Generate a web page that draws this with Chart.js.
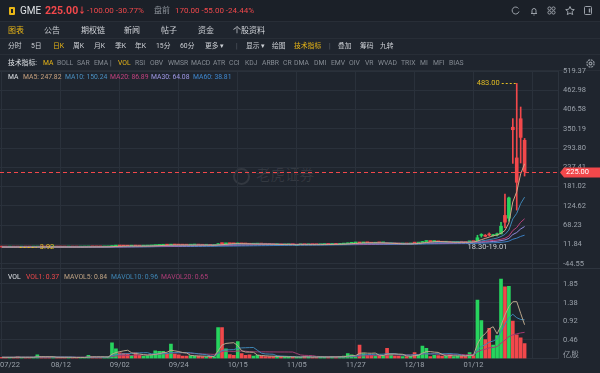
<!DOCTYPE html>
<html>
<head>
<meta charset="utf-8">
<script src="https://cdn.jsdelivr.net/npm/chart.js@4.4.1/dist/chart.umd.min.js"></script>
<style>
  body { margin: 0; width: 600px; height: 373px; overflow: hidden; position: relative; background: #1f252e;
         font-family: Roboto, "Noto Sans CJK SC", sans-serif; color: #8d939b; }
  .t { position: absolute; white-space: nowrap; line-height: 1; transform: translateY(-50%); }
  .hl { position: absolute; left: 0; width: 600px; height: 1px; background: #282e37; }
  .r1 { font-size: 8px; }
  .r2 { font-size: 8px; color: #d0d3d8; }
  .r3 { font-size: 6.8px; color: #cdd0d5; }
  .r4 { font-size: 6.8px; color: #858b93; }
  .lg { font-size: 6.8px; }
  .red { color: #f2484b; }
  .yel { color: #e9b616; }
  .wht { color: #dfe2e6; }
  #top { position: absolute; left: 0; top: 0; width: 600px; height: 21px; background: #1b2028; }
  #wm { position: absolute; left: 233px; top: 163px; font-size: 14.5px; color: rgba(255,255,255,0.09); font-family: "Noto Sans CJK SC"; }
  #wm span { display: inline-block; width: 17px; height: 17px; border: 2px solid rgba(255,255,255,0.09); border-radius: 50%; vertical-align: middle; margin-right: 6px; box-sizing: border-box; }
  canvas { position: absolute; left: 0; top: 0; }
</style>
</head>
<body>
<div id="top"></div>
<div class="hl" style="top:21px"></div>
<div class="hl" style="top:38px"></div>
<div class="hl" style="top:54px"></div>
<div class="hl" style="top:70px"></div>
<div id="wm"><span></span>老虎证券</div>
<canvas id="k" width="600" height="373"></canvas>

<div style="position:absolute;left:9px;top:7px;width:6px;height:8px;background:#e9b616;border-radius:1px"></div>
<div style="position:absolute;left:11px;top:9px;width:2px;height:4px;background:#1b2028"></div>
<div class="t wht" style="left:20px;top:11px;font-size:10px">GME</div>
<div class="t red" style="left:45px;top:11px;font-size:10.5px;font-weight:bold">225.00</div>
<div class="t red" style="left:78px;top:11px;font-size:8px;font-weight:bold">↓</div>
<div class="t r1 red" style="left:87px;top:11px">-100.00 -30.77%</div>
<div class="t r1" style="left:154px;top:11px">盘前</div>
<div class="t r1 red" style="left:175px;top:11px">170.00 -55.00 -24.44%</div>
<svg style="position:absolute;left:0;top:0" width="600" height="21" fill="none" stroke="#9aa0a8" stroke-width="1">
  <path d="M518.5 8.5 A3.5 3.5 0 1 0 519 11.5"/>
  <path d="M531 13.5 h6 M532 13.5 v-3 a2 2 0 0 1 4 0 v3 M533.5 15 h1"/>
  <circle cx="549.5" cy="8.5" r="1.6"/><circle cx="553.5" cy="8.5" r="1.6"/><circle cx="549.5" cy="12.5" r="1.6"/><circle cx="553.5" cy="12.5" r="1.6"/>
  <path d="M570 6.5 l1.3 2.8 3 .3 -2.3 2 .7 3 -2.7-1.6 -2.7 1.6 .7-3 -2.3-2 3-.3z"/>
  <rect x="584.5" y="6.5" width="7" height="8" rx="1"/><path d="M589.5 8.5 v4" stroke-width="1.4"/>
</svg>

<div class="t r2 yel" style="left:8px;top:31px">图表</div>
<div class="t r2" style="left:44px;top:31px">公告</div>
<div class="t r2" style="left:81px;top:31px">期权链</div>
<div class="t r2" style="left:124px;top:31px">新闻</div>
<div class="t r2" style="left:161px;top:31px">帖子</div>
<div class="t r2" style="left:198px;top:31px">资金</div>
<div class="t r2" style="left:233px;top:31px">个股资料</div>

<div class="t r3" style="left:8px;top:46px">分时</div>
<div class="t r3" style="left:31px;top:46px">5日</div>
<div class="t r3 yel" style="left:53px;top:46px">日K</div>
<div class="t r3" style="left:73px;top:46px">周K</div>
<div class="t r3" style="left:94px;top:46px">月K</div>
<div class="t r3" style="left:115px;top:46px">季K</div>
<div class="t r3" style="left:135px;top:46px">年K</div>
<div class="t r3" style="left:156px;top:46px">15分</div>
<div class="t r3" style="left:180px;top:46px">60分</div>
<div class="t r3" style="left:205px;top:46px">更多 ▾</div>
<div class="t r3" style="left:236px;top:46px;color:#5c626b">|</div>
<div class="t r3" style="left:246px;top:46px">显示 ▾</div>
<div class="t r3" style="left:272px;top:46px">绘图</div>
<div class="t r3 yel" style="left:294px;top:46px">技术指标</div>
<div class="t r3" style="left:329px;top:46px;color:#5c626b">|</div>
<div class="t r3" style="left:338px;top:46px">叠加</div>
<div class="t r3" style="left:360px;top:46px">筹码</div>
<div class="t r3" style="left:380px;top:46px">九转</div>

<div class="t r4 wht" style="left:8px;top:63px">技术指标:</div>
<div class="t r4 yel" style="left:43px;top:63px">MA</div>
<div class="t r4" style="left:57px;top:63px">BOLL</div>
<div class="t r4" style="left:77px;top:63px">SAR</div>
<div class="t r4" style="left:94px;top:63px">EMA</div>
<div class="t r4" style="left:110px;top:63px">|</div>
<div class="t r4 yel" style="left:118px;top:63px">VOL</div>
<div class="t r4" style="left:135px;top:63px">RSI</div>
<div class="t r4" style="left:150px;top:63px">OBV</div>
<div class="t r4" style="left:168px;top:63px">WMSR</div>
<div class="t r4" style="left:191px;top:63px">MACD</div>
<div class="t r4" style="left:213px;top:63px">ATR</div>
<div class="t r4" style="left:229px;top:63px">CCI</div>
<div class="t r4" style="left:245px;top:63px">KDJ</div>
<div class="t r4" style="left:262px;top:63px">ARBR</div>
<div class="t r4" style="left:283px;top:63px">CR</div>
<div class="t r4" style="left:294px;top:63px">DMA</div>
<div class="t r4" style="left:314px;top:63px">DMI</div>
<div class="t r4" style="left:331px;top:63px">EMV</div>
<div class="t r4" style="left:349px;top:63px">OIV</div>
<div class="t r4" style="left:365px;top:63px">VR</div>
<div class="t r4" style="left:378px;top:63px">WVAD</div>
<div class="t r4" style="left:401px;top:63px">TRIX</div>
<div class="t r4" style="left:420px;top:63px">MI</div>
<div class="t r4" style="left:433px;top:63px">MFI</div>
<div class="t r4" style="left:449px;top:63px">BIAS</div>
<svg style="position:absolute;left:585px;top:58px" width="11" height="11" fill="none" stroke="#8d939b" stroke-width="1.2">
  <circle cx="5.5" cy="5.5" r="3.6" stroke-dasharray="2 0.8"/><circle cx="5.5" cy="5.5" r="1.4"/>
</svg>

<div class="t lg wht" style="left:8px;top:77px">MA</div>
<div class="t lg" style="left:23px;top:77px;color:#c9a27e">MA5: 247.82</div>
<div class="t lg" style="left:65px;top:77px;color:#4a8fc0">MA10: 150.24</div>
<div class="t lg" style="left:110px;top:77px;color:#c2417e">MA20: 86.89</div>
<div class="t lg" style="left:151px;top:77px;color:#9f98e6">MA30: 64.08</div>
<div class="t lg" style="left:193px;top:77px;color:#3f88d0">MA60: 38.81</div>

<div class="t lg wht" style="left:8px;top:277px">VOL</div>
<div class="t lg red" style="left:26px;top:277px">VOL1: 0.37</div>
<div class="t lg" style="left:64px;top:277px;color:#c0a484">MAVOL5: 0.84</div>
<div class="t lg" style="left:111px;top:277px;color:#3f86b5">MAVOL10: 0.96</div>
<div class="t lg" style="left:161px;top:277px;color:#b03d78">MAVOL20: 0.65</div>

<script>
// trading days, 2020-07-22 .. 2021-02-01
const dates = [
  '07/22','07/23','07/24','07/27','07/28','07/29','07/30','07/31',
  '08/03','08/04','08/05','08/06','08/07','08/10','08/11','08/12','08/13','08/14','08/17','08/18','08/19','08/20','08/21','08/24','08/25','08/26','08/27','08/28','08/31',
  '09/01','09/02','09/03','09/04','09/08','09/09','09/10','09/11','09/14','09/15','09/16','09/17','09/18','09/21','09/22','09/23','09/24','09/25','09/28','09/29','09/30',
  '10/01','10/02','10/05','10/06','10/07','10/08','10/09','10/12','10/13','10/14','10/15','10/16','10/19','10/20','10/21','10/22','10/23','10/26','10/27','10/28','10/29','10/30',
  '11/02','11/03','11/04','11/05','11/06','11/09','11/10','11/11','11/12','11/13','11/16','11/17','11/18','11/19','11/20','11/23','11/24','11/25','11/27','11/30',
  '12/01','12/02','12/03','12/04','12/07','12/08','12/09','12/10','12/11','12/14','12/15','12/16','12/17','12/18','12/21','12/22','12/23','12/24','12/28','12/29','12/30','12/31',
  '01/04','01/05','01/06','01/07','01/08','01/11','01/12','01/13','01/14','01/15','01/19','01/20','01/21','01/22','01/25','01/26','01/27','01/28','01/29',
  '02/01'
];
const open = [
  4.15,4.08,4.00,4.04,3.97,3.96,4.03,4.02,
  4.02,4.10,4.40,4.30,4.23,4.19,4.30,4.25,4.22,4.16,4.20,4.15,4.12,4.26,4.36,4.78,4.68,4.60,4.56,4.70,5.63,
  6.90,7.80,7.20,6.95,6.80,7.20,7.00,6.85,7.00,7.45,8.30,9.00,9.40,10.10,9.80,10.50,10.00,9.80,9.75,9.60,10.05,
  10.10,9.70,9.40,9.50,9.15,10.50,15.30,13.50,14.00,13.80,13.30,14.80,13.40,13.10,12.40,12.70,13.00,12.70,12.20,11.90,11.40,11.40,
  10.90,11.30,11.30,11.10,11.10,11.60,11.00,11.30,11.10,11.00,11.50,11.90,11.80,12.10,12.00,12.80,13.60,15.10,16.10,17.10,
  16.10,17.20,16.60,15.40,16.90,16.30,15.30,13.60,13.80,13.60,13.10,13.40,13.30,16.00,15.70,16.70,20.30,20.90,20.20,21.00,19.40,18.20,
  19.00,17.35,17.34,18.47,18.18,19.41,19.96,20.42,38.09,38.49,41.55,37.37,39.23,42.59,96.73,88.56,354.83,265.00,379.71,
  316.56
];
const high = [
  4.20,4.12,4.10,4.08,4.03,4.08,4.10,4.06,
  4.12,4.45,4.48,4.35,4.30,4.35,4.40,4.32,4.28,4.25,4.26,4.22,4.30,4.40,4.80,4.90,4.75,4.72,4.70,5.50,6.85,
  7.88,8.00,7.35,7.10,7.05,7.30,7.10,7.00,7.50,8.30,9.20,9.50,10.10,10.40,10.80,10.70,10.20,9.95,9.95,10.10,10.35,
  10.25,9.85,9.60,9.60,9.45,14.20,15.80,14.20,14.30,14.00,15.50,15.00,13.80,13.30,12.90,13.30,13.40,12.80,12.50,12.00,11.80,11.50,
  11.50,11.60,11.50,11.30,11.40,11.80,11.40,11.50,11.30,11.50,12.00,12.10,12.20,12.30,12.80,13.60,15.80,16.50,16.50,17.30,
  17.40,17.40,16.80,16.90,17.20,17.00,15.50,14.20,14.00,13.80,13.60,13.50,14.00,16.40,16.60,20.50,21.90,21.30,21.30,21.20,19.80,19.20,
  19.10,18.08,18.98,19.45,18.30,20.65,20.40,38.65,43.06,40.75,45.52,41.19,44.75,76.76,159.18,150.00,380.00,483.00,413.98,
  322.00
];
const low = [
  4.05,3.98,3.95,3.94,3.92,3.94,3.98,3.95,
  4.00,4.08,4.25,4.20,4.15,4.15,4.22,4.18,4.12,4.10,4.12,4.08,4.10,4.20,4.34,4.62,4.55,4.52,4.50,4.65,5.55,
  6.80,7.10,6.80,6.55,6.60,6.90,6.75,6.70,6.95,7.40,8.20,8.80,9.20,9.50,9.70,9.90,9.60,9.55,9.50,9.50,9.95,
  9.70,9.30,9.30,9.05,9.10,10.40,13.20,13.20,13.50,13.30,13.20,13.20,12.90,12.30,12.20,12.50,12.60,12.10,11.80,11.30,11.10,10.80,
  10.80,11.10,10.90,10.90,11.00,10.90,10.90,11.00,10.90,10.95,11.40,11.60,11.70,11.80,11.90,12.70,13.50,15.00,15.80,15.70,
  16.00,16.30,15.20,15.30,16.00,16.10,13.50,13.20,13.40,13.00,13.00,13.00,13.20,14.90,15.30,16.60,19.80,19.90,20.00,19.10,18.00,18.00,
  17.15,17.23,17.33,18.02,17.08,19.01,19.32,19.01,33.05,34.01,36.64,36.06,37.00,42.32,61.13,80.20,249.00,112.25,250.00,
  212.00
];
const close = [
  4.08,4.01,4.04,3.97,3.95,4.05,4.01,4.01,
  4.09,4.40,4.30,4.23,4.18,4.30,4.25,4.22,4.16,4.20,4.14,4.12,4.26,4.35,4.75,4.68,4.60,4.56,4.65,5.39,6.68,
  7.65,7.19,6.90,6.75,6.92,6.98,6.80,6.93,7.40,8.20,9.05,9.40,10.00,9.70,10.60,10.05,9.80,9.69,9.60,10.05,10.20,
  9.77,9.39,9.46,9.13,9.36,13.49,13.88,14.05,13.86,13.60,14.75,13.31,13.06,12.35,12.62,13.00,12.75,12.20,12.00,11.40,11.50,10.85,
  11.20,11.37,11.05,11.10,11.30,11.00,11.30,11.10,11.00,11.40,11.90,11.80,12.10,12.00,12.70,13.50,15.00,16.08,16.35,16.00,
  17.25,16.56,15.30,16.90,16.35,16.40,13.66,13.85,13.55,13.12,13.40,13.20,13.85,15.63,16.40,20.15,20.99,20.15,20.99,19.38,18.17,18.84,
  17.25,17.37,18.36,18.08,17.69,19.94,19.95,31.40,39.91,35.50,39.36,39.12,43.03,65.01,76.79,147.98,347.51,193.60,325.00,
  225.00
];
// volume in 亿股
const volume = [
  0.03,0.03,0.03,0.03,0.04,0.03,0.03,0.03,
  0.03,0.09,0.04,0.03,0.03,0.03,0.03,0.03,0.03,0.03,0.02,0.02,0.03,0.03,0.08,0.04,0.03,0.03,0.03,0.05,0.39,
  0.24,0.14,0.13,0.12,0.08,0.14,0.08,0.06,0.07,0.10,0.19,0.18,0.18,0.12,0.36,0.11,0.09,0.06,0.06,0.07,0.06,
  0.06,0.05,0.04,0.05,0.04,0.77,0.77,0.24,0.10,0.08,0.42,0.12,0.08,0.09,0.06,0.08,0.06,0.05,0.05,0.05,0.04,0.04,
  0.04,0.04,0.04,0.03,0.03,0.06,0.04,0.03,0.03,0.04,0.05,0.04,0.04,0.03,0.05,0.06,0.12,0.09,0.04,0.33,
  0.12,0.08,0.08,0.07,0.06,0.08,0.25,0.10,0.06,0.06,0.05,0.05,0.05,0.15,0.10,0.31,0.25,0.05,0.08,0.07,0.06,0.06,
  0.10,0.05,0.06,0.06,0.06,0.15,0.07,1.45,0.94,0.47,0.75,0.33,0.57,1.97,1.78,1.79,0.93,0.59,0.51,
  0.37
];
const xTickLabels = ['07/22','08/12','09/02','09/24','10/15','11/05','11/27','12/18','01/12'];
const priceTicks = [519.37, 462.98, 406.58, 350.19, 293.80, 237.41, 181.02, 124.62, 68.23, 11.84, -44.55];
const volTicks = [0.46, 0.92, 1.38, 1.85];
const maPeriods = [5, 10, 20, 30, 60];
const maColors = ['#d2a487', '#3f86b5', '#b8417b', '#928ce0', '#3b7fc2'];
const volMaPeriods = [5, 10, 20];
const volMaColors = ['#b9a68b', '#3f86b5', '#a33b72'];

const GREEN = '#27d45e', RED = '#f2484b', YELLOW = '#e3bd22', GRID = '#2a313b', AXIS = '#9aa1aa';
Chart.defaults.font.family = 'Roboto, "Noto Sans CJK SC", sans-serif';

const barColor = close.map((c, i) => c >= open[i] ? GREEN : RED);
const labels = dates.concat(Array(8).fill(''));

function movingAvg(arr, n) {
  return arr.map((_, i) => {
    const s = Math.max(0, i - n + 1);
    let t = 0;
    for (let j = s; j <= i; j++) t += arr[j];
    return t / (i - s + 1);
  });
}

const maSets = maPeriods.map((n, k) => ({
  type: 'line', data: movingAvg(close, n), borderColor: maColors[k], borderWidth: 1,
  pointRadius: 0, yAxisID: 'y', order: 0
}));
const volMaSets = volMaPeriods.map((n, k) => ({
  type: 'line', data: movingAvg(volume, n), borderColor: volMaColors[k], borderWidth: 1,
  pointRadius: 0, yAxisID: 'v', order: 0
}));

const marks = {
  id: 'marks',
  afterDraw(chart) {
    const { ctx, scales: { x, y, v } } = chart;
    ctx.save();
    ctx.font = '7.5px Roboto';
    ctx.textBaseline = 'middle';

    // separator between the two panels
    ctx.fillStyle = '#2e353f';
    ctx.fillRect(0, Math.round(v.top), chart.width, 1);

    // last price line and tag
    const last = close[close.length - 1];
    const py = Math.round(y.getPixelForValue(last)) + 0.5;
    ctx.strokeStyle = RED;
    ctx.lineWidth = 1;
    ctx.setLineDash([4, 3]);
    ctx.beginPath(); ctx.moveTo(0, py); ctx.lineTo(x.right, py); ctx.stroke();
    ctx.setLineDash([]);
    ctx.fillStyle = RED;
    ctx.beginPath();
    ctx.moveTo(x.right + 2, py); ctx.lineTo(x.right + 6, py - 5); ctx.lineTo(600, py - 5);
    ctx.lineTo(600, py + 5); ctx.lineTo(x.right + 6, py + 5); ctx.closePath(); ctx.fill();
    ctx.fillStyle = '#ffffff';
    ctx.fillText(last.toFixed(2), x.right + 8, py);

    // highest price
    const hi = Math.max(...high), hiI = high.indexOf(hi);
    const hx = x.getPixelForValue(hiI), hy = Math.round(y.getPixelForValue(hi)) + 0.5;
    ctx.strokeStyle = YELLOW;
    ctx.setLineDash([2, 2]);
    ctx.beginPath(); ctx.moveTo(hx - 15, hy); ctx.lineTo(hx, hy); ctx.stroke();
    ctx.fillStyle = YELLOW;
    ctx.textAlign = 'right';
    ctx.fillText(hi.toFixed(2), hx - 17, hy);

    // lowest price
    const lo = Math.min(...low), loI = low.indexOf(lo);
    const lx = x.getPixelForValue(loI), ly = Math.round(y.getPixelForValue(lo)) + 0.5;
    ctx.beginPath(); ctx.moveTo(lx + 2, ly); ctx.lineTo(lx + 19, ly); ctx.stroke();
    ctx.setLineDash([]);
    ctx.textAlign = 'left';
    ctx.fillText(lo.toFixed(2), lx + 22, ly);

    // gap between 01/08 and 01/11
    const gi = dates.indexOf('01/11');
    ctx.fillStyle = '#c9cdd3';
    ctx.fillText(high[gi - 1].toFixed(2) + '-' + low[gi].toFixed(2),
      x.getPixelForValue(gi) - 2, y.getPixelForValue(high[gi - 1]) + 5);

    // date labels
    ctx.fillStyle = AXIS;
    xTickLabels.forEach(l => {
      const px = x.getPixelForValue(dates.indexOf(l));
      const w = ctx.measureText(l).width;
      ctx.fillText(l, Math.max(0, px - w / 2), x.top + 7);
    });

    // volume unit
    ctx.fillText('亿股', v.left + 5, v.bottom - 3);
    ctx.restore();
  }
};

new Chart(document.getElementById('k'), {
  type: 'bar',
  data: {
    labels: labels,
    datasets: [
      { data: low.map((l, i) => [l, high[i]]), backgroundColor: barColor, barThickness: 1,
        grouped: false, yAxisID: 'y', order: 3 },
      { data: open.map((o, i) => [o, close[i]]), backgroundColor: barColor, barThickness: 3,
        minBarLength: 1, grouped: false, yAxisID: 'y', order: 2 },
      ...maSets,
      { data: volume, backgroundColor: barColor, barThickness: 3, grouped: false, yAxisID: 'v', order: 2 },
      ...volMaSets
    ]
  },
  options: {
    responsive: false,
    animation: false,
    events: [],
    layout: { padding: { top: 71, left: 0, right: 0, bottom: 0 } },
    plugins: { legend: { display: false }, tooltip: { enabled: false } },
    scales: {
      x: {
        type: 'category',
        offset: true,
        grid: { offset: false, drawTicks: false, color: c => c.index % 15 === 0 ? GRID : 'transparent' },
        border: { color: GRID },
        ticks: { display: false, autoSkip: false },
        afterFit: s => { s.height = 14.5; }
      },
      y: {
        position: 'right', stack: 'k', stackWeight: 197, weight: 0,
        min: -57.2, max: 519.37,
        afterBuildTicks: s => { s.ticks = priceTicks.map(t => ({ value: t })); },
        ticks: { callback: t => t.toFixed(2), color: AXIS, font: { size: 7.5 }, padding: 5, autoSkip: false },
        grid: { color: GRID, drawTicks: false },
        border: { color: '#2c333d' },
        afterFit: s => { s.width = 42; }
      },
      v: {
        position: 'right', stack: 'k', stackWeight: 90.5, weight: 1,
        min: 0, max: 2.246,
        afterBuildTicks: s => { s.ticks = volTicks.map(t => ({ value: t })); },
        ticks: { callback: t => t.toFixed(2), color: AXIS, font: { size: 7.5 }, padding: 5, autoSkip: false },
        grid: { color: GRID, drawTicks: false },
        border: { color: '#2c333d' },
        afterFit: s => { s.width = 42; }
      }
    }
  },
  plugins: [marks]
});
</script>
</body>
</html>
